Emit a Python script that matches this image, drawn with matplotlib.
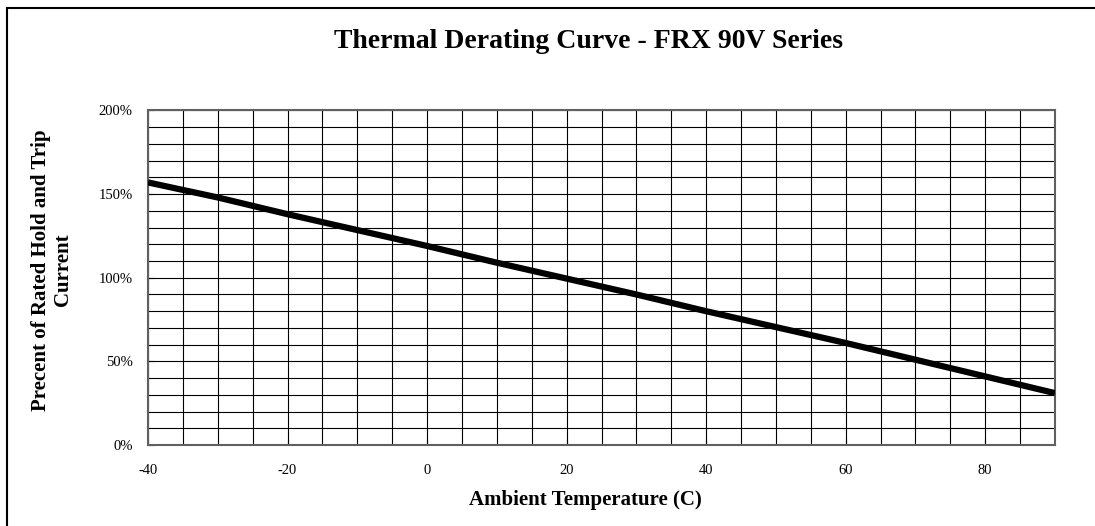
import matplotlib
matplotlib.use("Agg")
import matplotlib.pyplot as plt
from matplotlib.patches import Rectangle
from matplotlib.ticker import MultipleLocator, FuncFormatter

# Data
temps = [-40, -30, -20, -10, 0, 10, 20, 30, 40, 50, 60, 70, 80, 90]
percent = [157, 148, 138, 128.5, 119, 109, 99.5, 90, 80, 70.5, 61, 51, 41, 31]
title = "Thermal Derating Curve - FRX 90V Series"
xlabel = "Ambient Temperature (C)"
ylabel = "Precent of Rated Hold and Trip\nCurrent"

plt.rcParams['font.family'] = ['Liberation Serif', 'DejaVu Serif']
plt.rcParams['axes.unicode_minus'] = False

W, H = 1095, 526
fig = plt.figure(figsize=(W / 100, H / 100), dpi=100)
fig.patch.set_facecolor('white')

# outer border
fig.patches.append(Rectangle((7 / W, -0.1), 1.2, 1 - 8 / H + 0.1,
                             transform=fig.transFigure, fill=False,
                             edgecolor='black', linewidth=1.5))

ax = fig.add_axes([148 / W, (H - 445) / H, 907 / W, 334.5 / H])
ax.plot(temps, percent, color='black', linewidth=4.5, solid_capstyle='butt', zorder=3)
ax.set_xlim(-40, 90)
ax.set_ylim(0, 200)

ax.xaxis.set_major_locator(MultipleLocator(20))
ax.xaxis.set_minor_locator(MultipleLocator(5))
ax.yaxis.set_major_locator(MultipleLocator(50))
ax.yaxis.set_minor_locator(MultipleLocator(10))
ax.xaxis.set_major_formatter(FuncFormatter(lambda v, p: f"{int(v)}"))
ax.yaxis.set_major_formatter(FuncFormatter(lambda v, p: f"{int(v)}%"))

ax.grid(which='both', color='black', linewidth=0.8, zorder=1)
ax.set_axisbelow(True)
ax.tick_params(which='major', direction='in', length=4, width=0.8, labelsize=10.5,
               pad=14, colors='black')
ax.tick_params(axis='y', which='major', pad=11)
ax.tick_params(which='minor', length=0)

for s in ax.spines.values():
    s.set_color('#606060')
    s.set_linewidth(1.5)

fig.text(589 / W, 1 - 41 / H, title, ha='center', va='center',
         fontsize=20, fontweight='bold')
fig.text(585 / W, 1 - 500 / H, xlabel, ha='center', va='center',
         fontsize=15, fontweight='bold')
fig.text(52 / W, 1 - 270 / H, ylabel, ha='center', va='center',
         fontsize=15, fontweight='bold', rotation=90, multialignment='center',
         linespacing=1.1)

fig.savefig("out.png", dpi=100)
